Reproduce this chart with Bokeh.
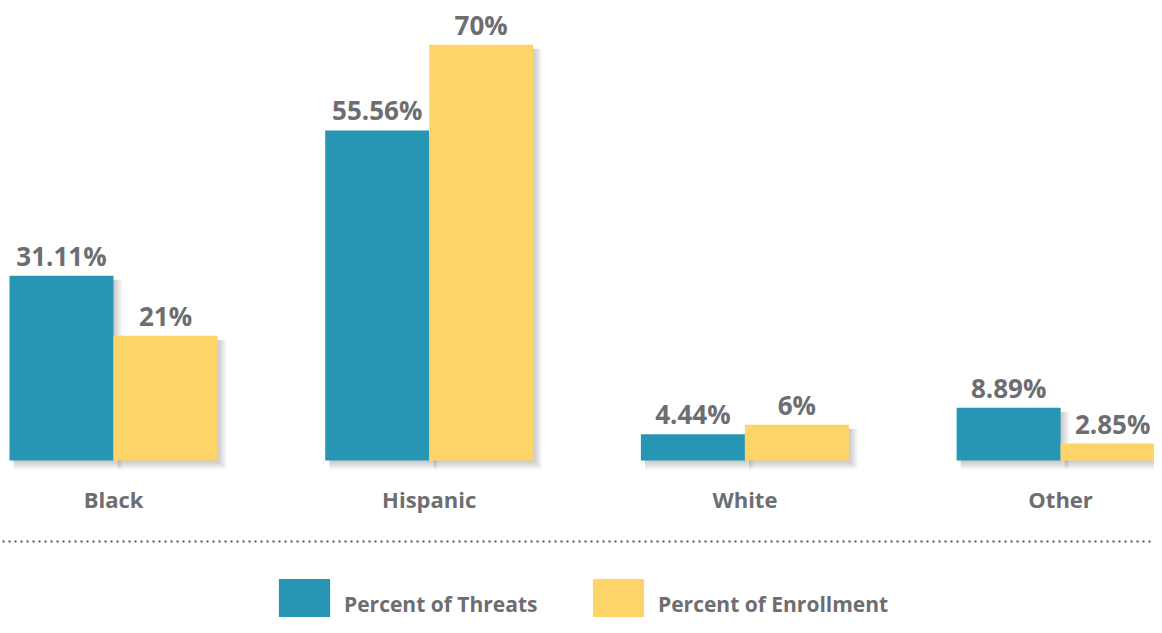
from bokeh.plotting import figure
from bokeh.models import ColumnDataSource, Range1d, Span, Legend, LegendItem
from bokeh.core.properties import value
from bokeh.transform import dodge
from bokeh.embed import file_html
from bokeh.resources import INLINE

# ---- data ----
categories = ["Black", "Hispanic", "White", "Other"]
threats = [31.11, 55.56, 4.44, 8.89]
enrollment = [21, 70, 6, 2.85]
series_names = ["Percent of Threats", "Percent of Enrollment"]

# ---- style ----
colors = ["#2795B4", "#FDD468"]
text_color = "#6D6E71"
FONT = "Open Sans"

PX_X = 315.7   # pixels per category unit
PX_Y = 5.94    # pixels per percent
W, H = 1154, 617
x_start = -113 / PX_X
y_top = 460 / PX_Y
BW = 104 / PX_X

xs = list(range(len(categories)))
src = ColumnDataSource(dict(
    x=xs,
    cat=categories,
    threats=threats,
    enrollment=enrollment,
    t_lab=[f"{v:g}%" for v in threats],
    e_lab=[f"{v:g}%" for v in enrollment],
))

p = figure(width=W, height=H, output_backend="svg", toolbar_location=None,
           x_range=Range1d(x_start, x_start + W / PX_X),
           y_range=Range1d(y_top - H / PX_Y, y_top),
           x_axis_location=None, y_axis_location=None, min_border=0)
p.grid.visible = False
p.outline_line_color = None
p.background_fill_color = "white"
p.border_fill_color = "white"

# soft drop shadows
for vals, off in ((threats, -BW / 2), (enrollment, BW / 2)):
    for k in range(1, 10):
        p.quad(left=[x + off - BW / 2 + 4 / PX_X for x in xs],
               right=[x + off + BW / 2 + k / PX_X for x in xs],
               top=[v - 4 / PX_Y for v in vals],
               bottom=[-k / PX_Y] * len(xs),
               fill_color="black", fill_alpha=0.022, line_color=None)

r_t = p.vbar(x=dodge("x", -BW / 2, range=p.x_range), top="threats", bottom=0,
             width=BW, source=src, fill_color=colors[0], line_color=None)
r_e = p.vbar(x=dodge("x", BW / 2, range=p.x_range), top="enrollment", bottom=0,
             width=BW, source=src, fill_color=colors[1], line_color=None)

for field, lab, off in (("threats", "t_lab", -BW / 2), ("enrollment", "e_lab", BW / 2)):
    p.text(x=dodge("x", off, range=p.x_range), y=field, text=lab, source=src,
           text_align="center", text_baseline="alphabetic", y_offset=-20,
           text_font=value(FONT), text_font_style="bold", text_font_size="26px",
           text_color=text_color)

p.text(x="x", y=0, text="cat", source=src, text_align="center",
       text_baseline="middle", y_offset=38, text_font=value(FONT),
       text_font_style="bold", text_font_size="22px", text_color=text_color)

p.add_layout(Span(location=(460 - 541) / PX_Y, dimension="width",
                  line_color="#555555", line_dash="2 4", line_dash_offset=-8,
                  line_width=2))

for r, name, lx in ((r_t, series_names[0], 272), (r_e, series_names[1], 586)):
    lg = Legend(items=[LegendItem(label=name, renderers=[r])],
                location=(lx, H - 636), orientation="horizontal",
                glyph_width=64, glyph_height=64, label_standoff=8,
                padding=0, margin=0, border_line_color=None,
                background_fill_alpha=0, label_text_font=FONT,
                label_text_font_style="bold", label_text_font_size="21px",
                label_text_color=text_color, label_text_baseline="middle")
    p.add_layout(lg, "center")

open("out.html", "w").write(file_html(p, INLINE))
